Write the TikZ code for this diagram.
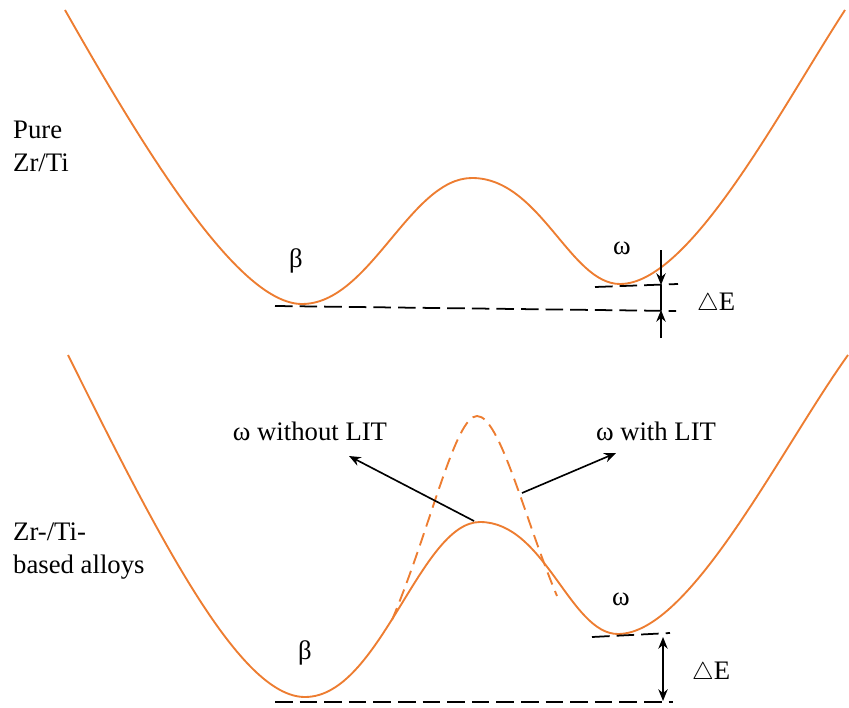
\documentclass[tikz,border=0pt]{standalone}
\usepackage{fontspec}
\setmainfont{Liberation Serif}
\usetikzlibrary{arrows.meta}
\definecolor{curve}{RGB}{237,125,49}
\begin{document}
\begin{tikzpicture}[x=0.03cm,y=-0.03cm,
  pes/.style={draw=curve,line width=1.6pt},
  pesdash/.style={draw=curve,line width=1.6pt,dash pattern=on 11pt off 6pt},
  lvl/.style={draw=black,line width=1.5pt,dash pattern=on 15pt off 6pt},
  ptr/.style={draw=black,line width=1.4pt,-{Stealth[length=10pt,width=8pt]}},
  lbl/.style={font=\fontsize{22.8}{28}\selectfont,inner sep=0pt}]
\useasboundingbox (0,0) rectangle (849,707);

% ---------- top: pure Zr/Ti ----------
\draw[pes] (65,10) .. controls (150,160) and (240,304) .. (302,304)
  .. controls (370,304) and (410,178) .. (472,178)
  .. controls (540,178) and (570,284) .. (620,284)
  .. controls (690,284) and (780,110) .. (845,10);

\node[lbl,anchor=base west] (pure) at (13,139) {Pure};
\node[lbl,anchor=base west] (zrti) at (13,172) {Zr/Ti};
\node[lbl,anchor=base] (betaA) at (296,267) {β};
\node[lbl,anchor=base] (omegaA) at (622,254) {ω};

\coordinate (baseAL) at (275,306);
\coordinate (baseAR) at (676,311);
\coordinate (omAL) at (595,287);
\coordinate (omAR) at (678,284);
\draw[lvl] (baseAL) -- (baseAR);
\draw[lvl] (omAL) -- (omAR);

\coordinate (aTop) at (661,250);
\coordinate (aHi) at (661,285);
\coordinate (aLo) at (661,310);
\coordinate (aBot) at (661,338);
\draw[line width=1.4pt] (aHi) -- (aLo);
\draw[ptr] (aTop) -- (aHi);
\draw[ptr] (aBot) -- (aLo);
\node[lbl,anchor=base west] (dEA) at (697,310) {$\triangle$E};

% ---------- bottom: Zr-/Ti-based alloys ----------
\draw[pes] (68,355) .. controls (160,540) and (240,697) .. (305,697)
  .. controls (380,697) and (420,522) .. (480,522)
  .. controls (545,522) and (570,634) .. (618,634)
  .. controls (690,634) and (780,450) .. (848,355);

\draw[pesdash] (392,620) .. controls (430,530) and (455,416) .. (477,416)
  .. controls (500,416) and (525,520) .. (557,596);

\node[lbl,anchor=base west] (zrtib) at (13,540) {Zr-/Ti-};
\node[lbl,anchor=base west] (based) at (13,573) {based alloys};
\node[lbl,anchor=base] (betaB) at (305,659) {β};
\node[lbl,anchor=base] (omegaB) at (621,605) {ω};
\node[lbl,anchor=base] (without) at (310,440) {ω without LIT};
\node[lbl,anchor=base] (with) at (656,440) {ω with LIT};

\coordinate (peakB) at (474,521);
\coordinate (woTip) at (349,456);
\coordinate (wStart) at (522,493);
\coordinate (wTip) at (616,453);
\draw[ptr] (peakB) -- (woTip);
\draw[ptr] (wStart) -- (wTip);

\coordinate (baseBL) at (275,702);
\coordinate (baseBR) at (673,702);
\coordinate (omBL) at (592,637);
\coordinate (omBR) at (670,633);
\draw[lvl] (baseBL) -- (baseBR);
\draw[lvl] (omBL) -- (omBR);

\coordinate (bHi) at (663,637);
\coordinate (bLo) at (663,701);
\draw[line width=1.4pt,{Stealth[length=10pt,width=8pt]}-{Stealth[length=10pt,width=8pt]}] (bHi) -- (bLo);
\node[lbl,anchor=base west] (dEB) at (692,679) {$\triangle$E};
\end{tikzpicture}
\end{document}
